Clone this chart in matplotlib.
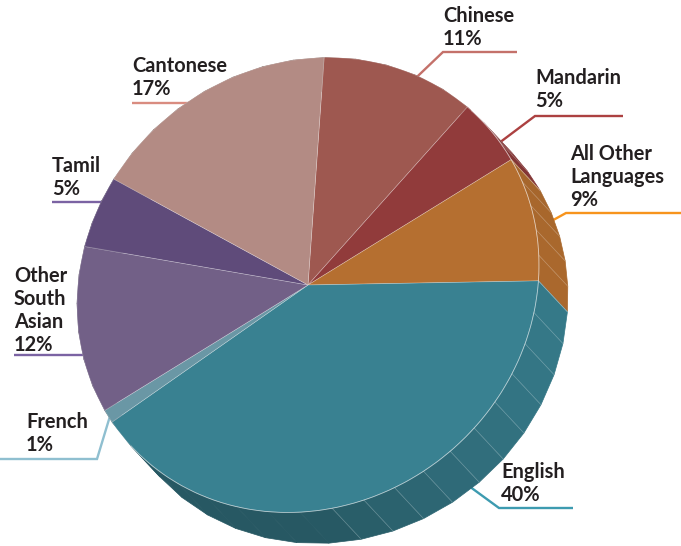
import numpy as np
import matplotlib.pyplot as plt
from matplotlib.patches import Wedge, Polygon
from matplotlib.transforms import Affine2D
from matplotlib.colors import to_rgb

# slices listed clockwise, starting at the top
languages = ["Chinese", "Mandarin", "All Other\nLanguages", "English",
             "French", "Other\nSouth\nAsian", "Tamil", "Cantonese"]
shares = [11, 5, 9, 40, 1, 12, 5, 17]
face_colors = ["#9e5850", "#913b3b", "#b56f30", "#398191",
               "#6a97a5", "#726087", "#5f4b7a", "#b38b84"]
line_colors = ["#c4716a", "#ac4141", "#f7941d", "#3d9bb0",
               "#8fbfd0", "#7b63a3", "#7b63a3", "#d98c80"]

# label layout in pixels: first baseline, leader height, far end and knee
text_pos = [(443, 22), (535, 84), (570, 160), (501, 478),
            (26, 428), (14, 282), (52, 172), (132, 72)]
leader_y = [52, 116, 213, 508, 459, 355, 202, 103]
leader_far = [517, 623, 681, 573, 0, 14, 52, 132]
leader_knee = [443, 535, 566, 499, 97, 100, 130, 235]
# where the leader meets its slice: fraction along the slice, radius, side wall?
anchor_frac = [0.39, 0.3, 0.74, 0.65, 0.5, 0.5, 0.5, 0.5]
anchor_r = [0.99, 0.99, 0.99, 0.99, 0.99, 0.8, 0.8, 0.8]
on_side = [False, False, True, True, False, False, False, False]

start_angle = 86
facet_step = 8

fig = plt.figure(figsize=(6.81, 5.46), dpi=100)
ax = fig.add_axes([0, 0, 1, 1])
ax.set_xlim(0, 681)
ax.set_ylim(546, 0)
ax.axis("off")

# tilted disc: unit circle -> pixel space, and the thickness offset
disc = Affine2D.from_values(231, -20, 0, -226.6, 308, 285)
tr = disc + ax.transData
depth = np.array([0.1255, -0.1479])

fracs = np.array(shares) / sum(shares)
edges = start_angle - 360 * np.concatenate([[0], np.cumsum(fracs)])

# side wall, built from small facets
for i, c in enumerate(face_colors):
    lo, hi = edges[i + 1], edges[i]
    n = max(1, int(np.ceil((hi - lo) / facet_step)))
    ts = np.radians(np.linspace(lo, hi, n + 1))
    base = np.array(to_rgb(c))
    for t1, t2 in zip(ts[:-1], ts[1:]):
        shade = 0.68 + 0.26 * max(np.cos((t1 + t2) / 2), 0)
        rim = np.array([[np.cos(t1), np.sin(t1)], [np.cos(t2), np.sin(t2)]])
        quad = np.vstack([rim, rim[::-1] + depth])
        col = np.clip(base * shade, 0, 1)
        ax.add_patch(Polygon(quad, closed=True, transform=tr, facecolor=col,
                             edgecolor=col, lw=0.5, zorder=1))
    for t in ts:
        if np.cos(t) > 0.05:
            p = np.array([np.cos(t), np.sin(t)])
            seg = np.vstack([p, p + depth])
            ax.plot(seg[:, 0], seg[:, 1], transform=tr, color="white",
                    alpha=0.28, lw=0.5, zorder=1.5)

# top face
for i, c in enumerate(face_colors):
    ax.add_patch(Wedge((0, 0), 1, edges[i + 1], edges[i], transform=tr,
                       facecolor=c, edgecolor=(1, 1, 1, 0.3), lw=0.5, zorder=2))

t = np.radians(np.linspace(-140, 45, 200))
ax.plot(np.cos(t), np.sin(t), transform=tr, color="white", alpha=0.5,
        lw=0.6, zorder=2.5)

# labels and leaders
for i, name in enumerate(languages):
    lo, hi = edges[i + 1], edges[i]
    ta = np.radians(lo + anchor_frac[i] * (hi - lo))
    p = anchor_r[i] * np.array([np.cos(ta), np.sin(ta)])
    if on_side[i]:
        p = p + depth
    ax_, ay_ = disc.transform(p)
    y = leader_y[i]
    ax.plot([leader_far[i], leader_knee[i], ax_], [y, y, ay_],
            color=line_colors[i], lw=1.7, zorder=0.5,
            solid_capstyle="butt", solid_joinstyle="miter")

    x0, y0 = text_pos[i]
    rows = name.split("\n") + [f"{shares[i]}%"]
    for j, row in enumerate(rows):
        ax.text(x0, y0 + 23 * j, row, fontsize=14.4, fontweight="bold",
                family="Lato", color="#231f20", va="baseline", ha="left")

fig.savefig("out.png", dpi=100)
